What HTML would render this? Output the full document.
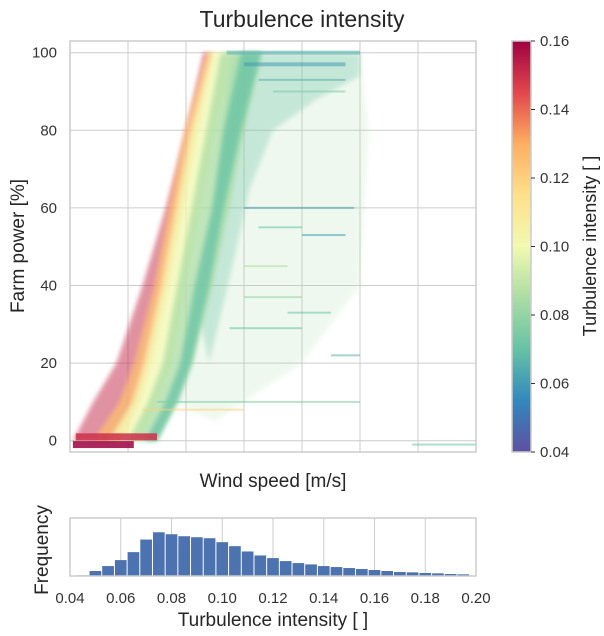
<!DOCTYPE html>
<html><head><meta charset="utf-8">
<style>
html,body{margin:0;padding:0;background:#fff;}
svg{display:block;font-family:"Liberation Sans",sans-serif;}
</style></head>
<body>
<svg id="chart" width="604" height="636" viewBox="0 0 604 636">
<defs>
<linearGradient id="spec" x1="0" y1="1" x2="0" y2="0">
<stop offset="0" stop-color="#5e4fa2"/><stop offset="0.125" stop-color="#3288bd"/>
<stop offset="0.25" stop-color="#66c2a5"/><stop offset="0.375" stop-color="#abdda4"/>
<stop offset="0.5" stop-color="#f2f9b0"/><stop offset="0.625" stop-color="#fee08b"/>
<stop offset="0.75" stop-color="#fdae61"/><stop offset="0.875" stop-color="#e1474c"/>
<stop offset="1" stop-color="#9e0142"/>
</linearGradient>
<clipPath id="mainclip"><rect x="70" y="41" width="406" height="411"/></clipPath>
<filter id="soft" x="-10%" y="-10%" width="120%" height="120%"><feGaussianBlur stdDeviation="2.5"/></filter>
</defs>
<text x="302" y="27" text-anchor="middle" font-size="23" fill="#262626">Turbulence intensity</text>
<g id="main"></g>
<g id="cbar"></g>
<g id="hist"></g>
</svg>
<script>
// ---- scatter density bands (wind speed at each power level) ----
const powerLevels = [0, 10, 20, 40, 60, 80, 100];
const bandNames = ['red', 'orange', 'yellow', 'green', 'teal'];
const bandLeft = [
  [0.1, 0.8, 1.6, 2.5, 3.3, 4.0, 4.6],
  [0.8, 1.7, 2.2, 2.9, 3.4, 3.95, 4.7],
  [1.3, 2.2, 2.6, 3.2, 3.7, 4.2, 4.9],
  [2.0, 2.7, 3.2, 3.7, 4.2, 4.7, 5.2],
  [2.6, 3.3, 3.8, 4.3, 4.9, 5.3, 5.9]
];
const bandRight = [
  [1.6, 2.1, 2.5, 3.1, 3.6, 4.1, 4.8],
  [1.8, 2.4, 2.8, 3.4, 3.9, 4.4, 5.0],
  [2.4, 3.0, 3.5, 4.0, 4.5, 5.0, 5.6],
  [3.0, 3.7, 4.2, 4.9, 5.5, 6.0, 6.6],
  [3.0, 3.7, 4.2, 4.8, 5.3, 5.9, 6.6]
];
const bandTI = [0.152, 0.125, 0.1, 0.085, 0.07];
// sparse cloud outline [wind, power]
const sparseWind = [4.0, 5.0, 5.3, 10.0, 10.3, 10.0, 8.0, 5.0, 3.5];
const sparsePower = [20, 60, 100, 100, 80, 40, 20, 5, 10];
// denser cloud just right of the curve
const denseWind = [4.5, 5.0, 5.6, 10.0, 10.0, 8.5, 7.0, 6.2, 5.6, 4.8];
const densePower = [30, 60, 100, 100, 94, 88, 80, 65, 45, 20];
// horizontal streaks: power, wind start, wind end, TI
const streakPower = [100, 97, 93, 90, 60, 55, 53, 45, 37, 33, 29, 22, 10, 8, -1, -1, 1];
const streakW0 = [5.4, 6.0, 6.5, 7.0, 6.0, 6.5, 8.0, 6.0, 6.0, 7.5, 5.5, 9.0, 3.0, 2.5, 11.8, 0.1, 0.2];
const streakW1 = [10.0, 9.5, 9.5, 9.5, 9.8, 8.0, 9.5, 7.5, 8.0, 9.0, 8.0, 10.0, 10.0, 6.0, 14.0, 2.2, 3.0];
const streakTI = [0.065, 0.06, 0.065, 0.075, 0.06, 0.07, 0.06, 0.085, 0.08, 0.07, 0.07, 0.065, 0.075, 0.12, 0.07, 0.16, 0.15];
// ---- histogram ----
const histStart = 0.0425, histWidth = 0.005;
const histCounts = [2,15,30,48,72,110,132,126,120,117,114,102,90,74,62,54,45,39,35,30,27,24,21,18,15,12,11,9,8,6,5];
const histTicks = [0.04,0.06,0.08,0.10,0.12,0.14,0.16,0.18,0.20];
const yTicks = [0, 20, 40, 60, 80, 100];
const cbTicks = [0.04, 0.06, 0.08, 0.10, 0.12, 0.14, 0.16];

const NS = 'http://www.w3.org/2000/svg';
function mk(tag, attrs, parent) { const e = document.createElementNS(NS, tag); for (const k in attrs) e.setAttribute(k, attrs[k]); parent.appendChild(e); return e; }
const xW = w => 70 + 29 * w;
const yP = p => 440.7 - 3.88 * p;
const stops = [[0.04,[94,79,162]],[0.055,[50,136,189]],[0.07,[102,194,165]],[0.085,[171,221,164]],[0.10,[242,249,176]],[0.115,[254,224,139]],[0.13,[253,174,97]],[0.145,[225,71,76]],[0.16,[158,1,66]]];
function tiColor(t) {
  t = Math.max(0.04, Math.min(0.16, t));
  for (let i = 0; i < stops.length - 1; i++) {
    const [a, ca] = stops[i], [b, cb] = stops[i + 1];
    if (t <= b) { const f = (t - a) / (b - a); return 'rgb(' + ca.map((v, j) => Math.round(v + (cb[j] - v) * f)).join(',') + ')'; }
  }
  return 'rgb(158,1,66)';
}

const main = document.getElementById('main');
mk('rect', {x: 70, y: 41, width: 406, height: 411, fill: '#fff'}, main);
for (const p of yTicks) {
  const l = mk('line', {x1: 70, x2: 476, y1: yP(p), y2: yP(p), stroke: '#cccccc', 'stroke-width': 1}, main);
  
  
  const t = mk('text', {x: 57, y: yP(p) + 5, 'text-anchor': 'end', 'font-size': 15, fill: '#333'}, main);
  t.textContent = p;
  
  
}
for (let w = 2; w < 14; w += 2) {
  const l = mk('line', {x1: xW(w), x2: xW(w), y1: 41, y2: 452, stroke: '#cccccc', 'stroke-width': 1}, main);
  
  
}
const g = mk('g', {'clip-path': 'url(#mainclip)'}, main);
const sp = mk('polygon', {points: sparseWind.map((w, i) => xW(w) + ',' + yP(sparsePower[i])).join(' '), fill: '#abdda4', opacity: 0.18, filter: 'url(#soft)'}, g);


const dp = mk('polygon', {points: denseWind.map((w, i) => xW(w) + ',' + yP(densePower[i])).join(' '), fill: '#66c2a5', opacity: 0.3, filter: 'url(#soft)'}, g);


bandNames.forEach((n, b) => {
  const pts = [];
  powerLevels.forEach((p, i) => pts.push(xW(bandLeft[b][i]) + ',' + yP(p)));
  for (let i = powerLevels.length - 1; i >= 0; i--) pts.push(xW(bandRight[b][i]) + ',' + yP(powerLevels[i]));
  const poly = mk('polygon', {points: pts.join(' '), fill: tiColor(bandTI[b]), opacity: b === 0 ? 0.5 : 0.75, filter: 'url(#soft)'}, g);
  
  
});
streakPower.forEach((p, i) => {
  const thick = (i >= 15) ? 7 : (i < 2 ? 4 : 2);
  const r = mk('rect', {x: xW(streakW0[i]), y: yP(p) - thick / 2, width: xW(streakW1[i]) - xW(streakW0[i]), height: thick, fill: tiColor(streakTI[i]), opacity: i >= 15 ? 0.85 : 0.55}, g);
  
  
});
mk('rect', {x: 70, y: 41, width: 406, height: 411, fill: 'none', stroke: '#cccccc', 'stroke-width': 1.5}, main);
let t = mk('text', {x: 0, y: 0, 'text-anchor': 'middle', 'font-size': 19, fill: '#262626', transform: 'translate(24,246) rotate(-90)'}, main);
t.textContent = 'Farm power [%]';


t = mk('text', {x: 273, y: 487, 'text-anchor': 'middle', 'font-size': 19, fill: '#262626'}, main);
t.textContent = 'Wind speed [m/s]';



const cb = document.getElementById('cbar');
const cbY = v => 452 - (v - 0.04) / 0.12 * 411;
mk('rect', {x: 512, y: 41, width: 19, height: 411, fill: 'url(#spec)', stroke: '#cccccc', 'stroke-width': 1.5}, cb);
for (const v of cbTicks) {
  mk('line', {x1: 531, x2: 535, y1: cbY(v), y2: cbY(v), stroke: '#333', 'stroke-width': 1}, cb);
  const tt = mk('text', {x: 540, y: cbY(v) + 5, 'font-size': 15, fill: '#333'}, cb);
  tt.textContent = v.toFixed(2);
  
  
}
t = mk('text', {x: 0, y: 0, 'text-anchor': 'middle', 'font-size': 18, fill: '#262626', transform: 'translate(596,246) rotate(-90)'}, cb);
t.textContent = 'Turbulence intensity [ ]';



const h = document.getElementById('hist');
const hx = v => 70 + (v - 0.04) / 0.16 * 406;
const hScale = 58 / 175;
mk('rect', {x: 70, y: 518, width: 406, height: 58, fill: '#fff'}, h);
for (const v of histTicks) {
  const l = mk('line', {x1: hx(v), x2: hx(v), y1: 518, y2: 576, stroke: '#cccccc', 'stroke-width': 1}, h);
  
  
  const tt = mk('text', {x: hx(v), y: 603, 'text-anchor': 'middle', 'font-size': 15, fill: '#333'}, h);
  tt.textContent = v.toFixed(2);
  
  
}
histCounts.forEach((c, i) => {
  const x0 = hx(histStart + i * histWidth), x1 = hx(histStart + (i + 1) * histWidth);
  const ht = c * hScale;
  const r = mk('rect', {x: x0 + 0.5, y: 576 - ht, width: x1 - x0 - 1, height: ht, fill: '#4c72b0'}, h);
  
  
});
mk('rect', {x: 70, y: 518, width: 406, height: 58, fill: 'none', stroke: '#cccccc', 'stroke-width': 1.5}, h);
t = mk('text', {x: 0, y: 0, 'text-anchor': 'middle', 'font-size': 19, fill: '#262626', transform: 'translate(48,550) rotate(-90)'}, h);
t.textContent = 'Frequency';


t = mk('text', {x: 273, y: 626, 'text-anchor': 'middle', 'font-size': 19, fill: '#262626'}, h);
t.textContent = 'Turbulence intensity [ ]';


</script>
</body></html>
